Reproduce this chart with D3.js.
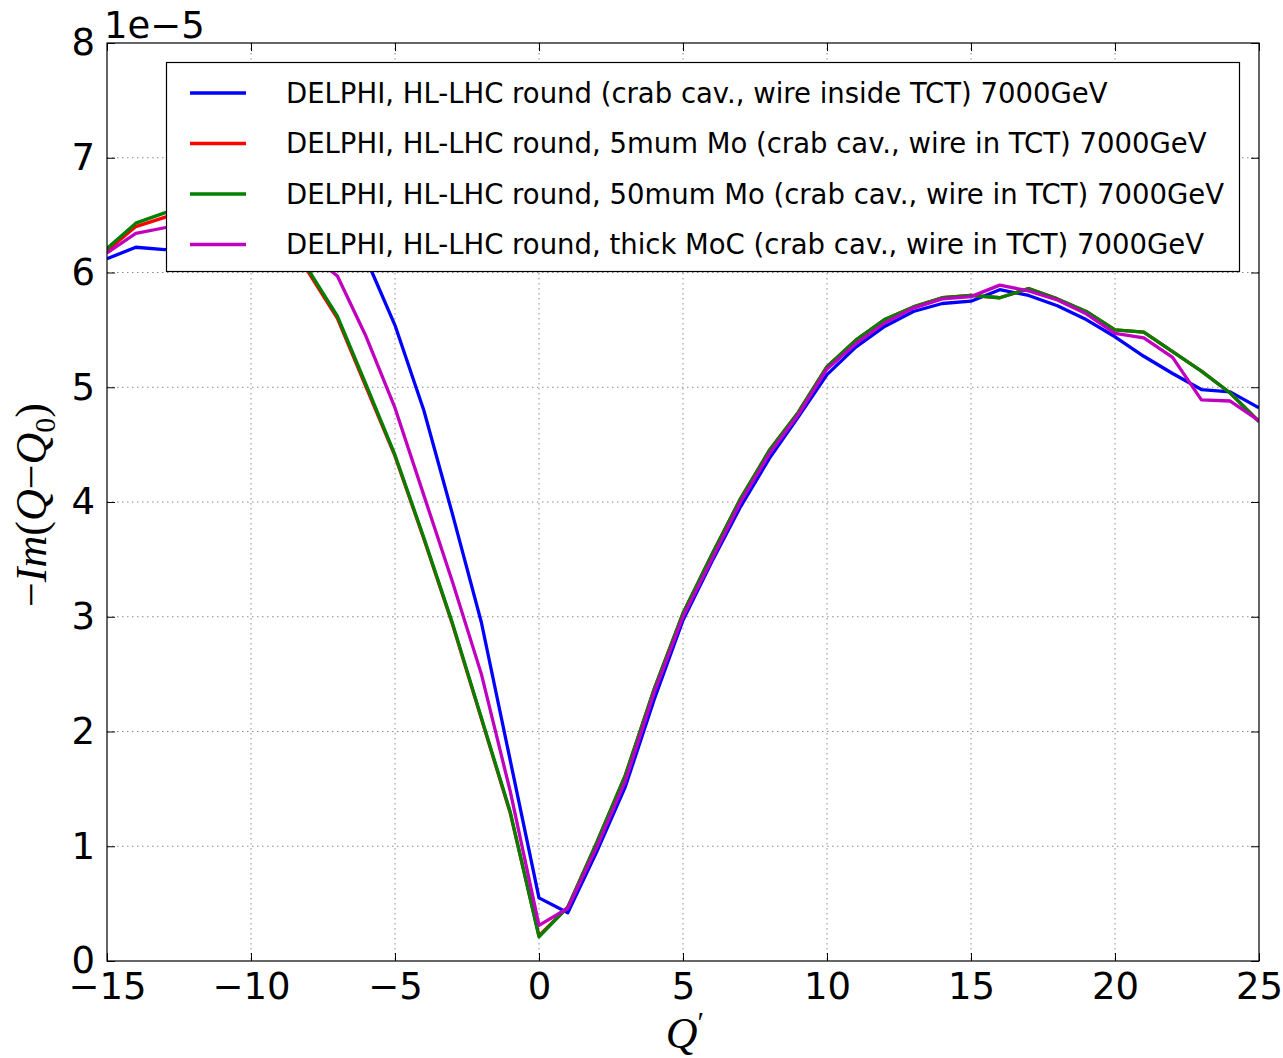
<!DOCTYPE html>
<html>
<head>
<meta charset="utf-8">
<script src="https://cdn.jsdelivr.net/npm/d3@7"></script>
<style>
  html, body { margin: 0; padding: 0; background: #fff; }
  svg { display: block; }
</style>
</head>
<body>
<svg id="chart" width="1283" height="1058"></svg>
<script>
// Q' values (chromaticity)
const qprime = d3.range(-15, 26);

// -Im(Q-Q0) in units of 1e-5
const blueVals = [6.12, 6.22, 6.20, 6.22, 6.26, 6.30, 6.32, 6.30, 6.24, 6.12,
  5.54, 4.80, 3.89, 2.95, 1.75, 0.55, 0.42, 0.95, 1.52, 2.28,
  2.97, 3.48, 3.96, 4.38, 4.74, 5.11, 5.35, 5.53, 5.66, 5.73,
  5.75, 5.85, 5.80, 5.71, 5.59, 5.44, 5.27, 5.12, 4.98, 4.96, 4.82];
const redVals = [6.19, 6.40, 6.48, 6.55, 6.56, 6.48, 6.28, 6.00, 5.60, 5.00,
  4.40, 3.68, 2.93, 2.11, 1.29, 0.22, 0.47, 1.03, 1.62, 2.37,
  3.03, 3.54, 4.03, 4.45, 4.78, 5.18, 5.41, 5.59, 5.70, 5.78,
  5.80, 5.78, 5.86, 5.77, 5.66, 5.50, 5.48, 5.31, 5.14, 4.95, 4.70];
const greenVals = [6.21, 6.43, 6.52, 6.58, 6.58, 6.50, 6.30, 6.02, 5.62, 5.02,
  4.41, 3.69, 2.94, 2.12, 1.30, 0.21, 0.47, 1.03, 1.62, 2.37,
  3.03, 3.54, 4.03, 4.45, 4.78, 5.18, 5.41, 5.59, 5.70, 5.78,
  5.80, 5.78, 5.86, 5.77, 5.66, 5.50, 5.48, 5.31, 5.14, 4.95, 4.70];
const magentaVals = [6.17, 6.34, 6.39, 6.44, 6.46, 6.42, 6.32, 6.17, 5.97, 5.44,
  4.82, 4.06, 3.30, 2.50, 1.48, 0.31, 0.46, 0.99, 1.57, 2.34,
  3.00, 3.50, 4.00, 4.42, 4.76, 5.16, 5.38, 5.56, 5.69, 5.77,
  5.79, 5.89, 5.84, 5.76, 5.64, 5.47, 5.43, 5.26, 4.89, 4.88, 4.71];

const seriesNames = [
  "DELPHI, HL-LHC round (crab cav., wire inside TCT) 7000GeV",
  "DELPHI, HL-LHC round, 5mum Mo (crab cav., wire in TCT) 7000GeV",
  "DELPHI, HL-LHC round, 50mum Mo (crab cav., wire in TCT) 7000GeV",
  "DELPHI, HL-LHC round, thick MoC (crab cav., wire in TCT) 7000GeV"
];
const seriesColors = ["#0000ff", "#ff0000", "#008000", "#bf00bf"];
const seriesValues = [blueVals, redVals, greenVals, magentaVals];

const xTicks = [-15, -10, -5, 0, 5, 10, 15, 20, 25];
const yTicks = [0, 1, 2, 3, 4, 5, 6, 7, 8];

const svg = d3.select("#chart");
const L = 107, T = 43, W = 1152, H = 918;
const g = svg.append("g").attr("transform", `translate(${L},${T})`);

const x = d3.scaleLinear().domain([-15, 25]).range([0, W]);
const y = d3.scaleLinear().domain([0, 8]).range([H, 0]);

// grid
const gridStyle = sel => sel.attr("stroke", "#8a8a8a").attr("stroke-width", 1)
  .attr("stroke-dasharray", "1.5,3.5").attr("fill", "none");
g.append("g").selectAll("line").data(xTicks.slice(1, -1)).join("line")
  .attr("x1", d => x(d)).attr("x2", d => x(d)).attr("y1", 0).attr("y2", H)
  .call(gridStyle);
g.append("g").selectAll("line").data(yTicks.slice(1, -1)).join("line")
  .attr("x1", 0).attr("x2", W).attr("y1", d => y(d)).attr("y2", d => y(d))
  .call(gridStyle);

// lines
const clipId = "plotclip";
svg.append("defs").append("clipPath").attr("id", clipId)
  .append("rect").attr("x", 0).attr("y", 0).attr("width", W).attr("height", H);
const lineGen = d3.line().x((d, i) => x(qprime[i])).y(d => y(d));
const linesG = g.append("g").attr("clip-path", `url(#${clipId})`);
seriesValues.forEach((vals, k) => {
  linesG.append("path").datum(vals)
    .attr("d", lineGen)
    .attr("fill", "none")
    .attr("stroke", seriesColors[k])
    .attr("stroke-width", 3.3)
    .attr("stroke-linejoin", "round");
});

// axes (ticks inside, labels outside)
const fontTick = "DejaVu Sans, sans-serif";
const tickFontSize = 37;
const fmtMinus = d => String(d).replace("-", "\u2212");
const xAxis = d3.axisBottom(x).tickValues(xTicks).tickSize(-8).tickPadding(12).tickFormat(fmtMinus);
const xAxisTop = d3.axisTop(x).tickValues(xTicks).tickSize(-8).tickFormat("");
const yAxis = d3.axisLeft(y).tickValues(yTicks).tickSize(-8).tickPadding(12).tickFormat(d => String(d));
const yAxisRight = d3.axisRight(y).tickValues(yTicks).tickSize(-8).tickFormat("");

function styleAxis(sel) {
  sel.select(".domain").remove();
  sel.selectAll(".tick line").attr("stroke", "#000").attr("stroke-width", 1);
  sel.selectAll(".tick text").attr("font-family", fontTick).attr("font-size", tickFontSize).attr("fill", "#000");
}
g.append("g").attr("transform", `translate(0,${H})`).call(xAxis).call(styleAxis);
g.append("g").call(xAxisTop).call(styleAxis);
g.append("g").call(yAxis).call(styleAxis);
g.append("g").attr("transform", `translate(${W},0)`).call(yAxisRight).call(styleAxis);

// frame
g.append("rect").attr("x", 0).attr("y", 0).attr("width", W).attr("height", H)
  .attr("fill", "none").attr("stroke", "#000").attr("stroke-width", 1.2);

// offset text
svg.append("text").attr("x", 104).attr("y", 38)
  .attr("font-family", fontTick).attr("font-size", tickFontSize).attr("fill", "#000")
  .text("1e\u22125");

// axis labels (math style)
const mathFont = "Liberation Serif, DejaVu Serif, serif";
const yl = svg.append("text")
  .attr("transform", "translate(46,505) rotate(-90)")
  .attr("text-anchor", "middle")
  .attr("font-family", mathFont).attr("font-size", 44).attr("fill", "#000");
yl.append("tspan").text("\u2212");
yl.append("tspan").attr("font-style", "italic").text("Im");
yl.append("tspan").text("(");
yl.append("tspan").attr("font-style", "italic").text("Q");
yl.append("tspan").text("\u2212");
yl.append("tspan").attr("font-style", "italic").text("Q");
yl.append("tspan").attr("font-size", 30).attr("dy", 9).text("0");
yl.append("tspan").attr("dy", -9).text(")");

const xl = svg.append("text").attr("x", 685).attr("y", 1048)
  .attr("text-anchor", "middle")
  .attr("font-family", mathFont).attr("font-size", 44).attr("fill", "#000");
xl.append("tspan").attr("font-style", "italic").text("Q");
xl.append("tspan").attr("font-size", 30).attr("dy", -16).text("\u2032");

// legend
const lg = svg.append("g");
lg.append("rect").attr("x", 166.5).attr("y", 62.5).attr("width", 1073).attr("height", 209)
  .attr("fill", "#fff").attr("stroke", "#000").attr("stroke-width", 1.2);
const rowY = [93, 143.5, 194, 244.5];
seriesNames.forEach((name, k) => {
  lg.append("line").attr("x1", 190).attr("x2", 246).attr("y1", rowY[k]).attr("y2", rowY[k])
    .attr("stroke", seriesColors[k]).attr("stroke-width", 3.3);
  lg.append("text").attr("x", 286).attr("y", rowY[k]).attr("dy", "0.36em")
    .attr("font-family", fontTick).attr("font-size", 27.5).attr("fill", "#000")
    .text(name);
});
</script>
</body>
</html>
